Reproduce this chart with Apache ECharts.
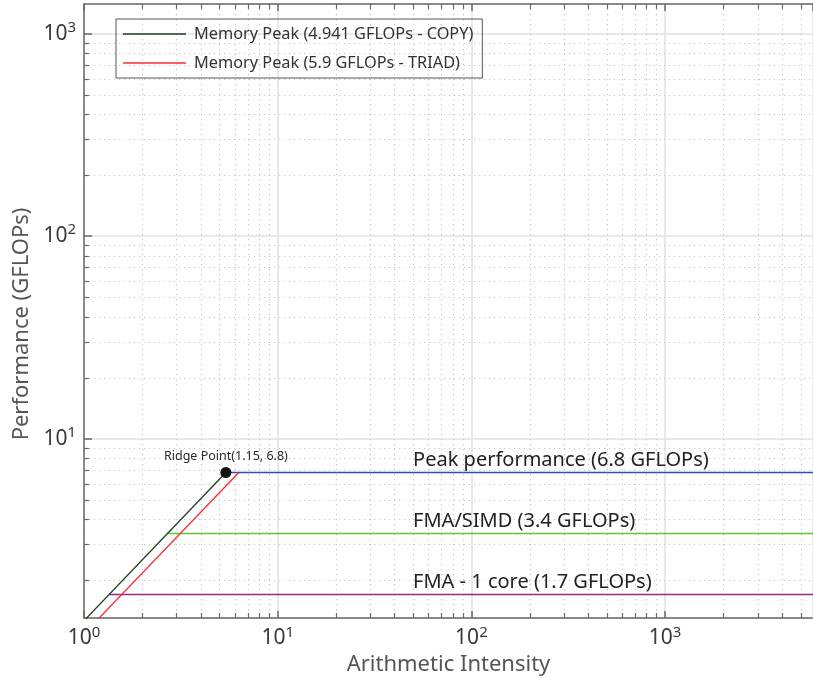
<!DOCTYPE html>
<html>
<head>
<meta charset="utf-8">
<script src="https://cdn.jsdelivr.net/npm/echarts@6/dist/echarts.min.js"></script>
<style>
  html, body { margin: 0; padding: 0; background: #fff; }
  #chart { width: 813px; height: 686px; }
</style>
</head>
<body>
<div id="chart"></div>
<script>
const FONT = '"Noto Sans", "Open Sans", sans-serif';

// Axis extents (log10 scales)
const xRange = [1, 5800];
const yRange = [1.3, 1400];

// Memory-bandwidth roofs: [arithmetic intensity, GFLOPs]
const memoryNames = ['Memory Peak (4.941 GFLOPs - COPY)', 'Memory Peak (5.9 GFLOPs - TRIAD)'];
const copyRoof = [[1, 1.26], [5.4, 6.8]];
const triadRoof = [[1.17, 1.27], [6.3, 6.8]];

// Compute ceilings
const ceilingNames = ['Peak performance (6.8 GFLOPs)', 'FMA/SIMD (3.4 GFLOPs)', 'FMA - 1 core (1.7 GFLOPs)'];
const ceilingValues = [6.8, 3.4, 1.7];
const ceilingStart = [5.4, 2.7, 1.35];
const ceilingColors = ['#2f4fb0', '#5cc43a', '#922a8e'];
const ceilingLabelX = 50;

// Ridge point
const ridgePoint = [5.4, 6.8];
const ridgeLabel = 'Ridge Point(1.15, 6.8)';

// Minor grid positions (2..9 within each decade)
function minorValues(lo, hi) {
  const out = [];
  for (let k = -1; k <= 4; k++) {
    for (let m = 2; m <= 9; m++) {
      const v = m * Math.pow(10, k);
      if (v > lo && v < hi) out.push(v);
    }
  }
  return out;
}
const xMinor = minorValues(xRange[0], xRange[1]);
const yMinor = minorValues(yRange[0], yRange[1]);

const powLabel = v => '{b|10}{s|' + Math.round(Math.log10(v)) + '}';
const richPow = {
  b: { fontSize: 21, fontFamily: FONT, color: '#383838', lineHeight: 27 },
  s: { fontSize: 15, fontFamily: FONT, color: '#383838', verticalAlign: 'top', lineHeight: 17 }
};

const axisLineStyle = { color: '#6a6a6a', width: 1.5 };

const chart = echarts.init(document.getElementById('chart'), null, { renderer: 'canvas' });

const series = [];

// Dotted minor grid and minor ticks
series.push({
  type: 'custom',
  silent: true,
  z: 1,
  data: [[10, 10]],
  renderItem(params, api) {
    const cs = params.coordSys;
    const top = cs.y, bottom = cs.y + cs.height, left = cs.x, right = cs.x + cs.width;
    const kids = [];
    const dot = { stroke: '#c6c6c6', lineWidth: 1.2, lineDash: [1.2, 3.8] };
    const tick = { stroke: '#6a6a6a', lineWidth: 1.2 };
    xMinor.forEach(v => {
      const px = Math.round(api.coord([v, 10])[0]) + 0.5;
      kids.push({ type: 'line', shape: { x1: px, y1: top, x2: px, y2: bottom }, style: dot });
      kids.push({ type: 'line', shape: { x1: px, y1: bottom, x2: px, y2: bottom - 5 }, style: tick });
      kids.push({ type: 'line', shape: { x1: px, y1: top, x2: px, y2: top + 5 }, style: tick });
    });
    yMinor.forEach(v => {
      const py = Math.round(api.coord([10, v])[1]) + 0.5;
      kids.push({ type: 'line', shape: { x1: left, y1: py, x2: right, y2: py }, style: dot });
      kids.push({ type: 'line', shape: { x1: left, y1: py, x2: left + 5, y2: py }, style: tick });
    });
    return { type: 'group', children: kids };
  }
});

// Memory roofs
series.push({
  name: memoryNames[0], type: 'line', data: copyRoof, symbol: 'none', z: 3,
  lineStyle: { color: '#1f3f1f', width: 1.3 }, itemStyle: { color: '#1f3f1f' }
});
series.push({
  name: memoryNames[1], type: 'line', data: triadRoof, symbol: 'none', z: 3,
  lineStyle: { color: '#ff2a2a', width: 1.3 }, itemStyle: { color: '#ff2a2a' }
});

// Compute ceilings with their captions
ceilingValues.forEach((v, i) => {
  series.push({
    name: ceilingNames[i], type: 'line', symbol: 'none', z: 2,
    data: [[ceilingStart[i], v], [xRange[1], v]],
    lineStyle: { color: ceilingColors[i], width: 1.5 },
    markPoint: {
      symbol: 'circle', symbolSize: 0, silent: true,
      data: [{ coord: [ceilingLabelX, v] }],
      label: {
        show: true, position: 'right', distance: 0, offset: [0, -12],
        formatter: ceilingNames[i], fontSize: 20, fontFamily: FONT, color: '#222'
      }
    }
  });
});

// Ridge point marker
series.push({
  type: 'scatter', data: [ridgePoint], symbolSize: 11, z: 5,
  itemStyle: { color: '#111', opacity: 1 },
  label: {
    show: true, position: 'top', distance: 4, formatter: ridgeLabel,
    fontSize: 12.5, fontFamily: FONT, color: '#2a2a2a'
  }
});

chart.setOption({
  animation: false,
  backgroundColor: '#fff',
  grid: { left: 84, right: 0, top: 4, bottom: 68, outerBoundsMode: 'none' },
  legend: {
    data: memoryNames,
    orient: 'vertical', left: 116, top: 19,
    padding: [6, 9, 6, 7], itemGap: 11,
    icon: 'rect', itemWidth: 63, itemHeight: 1.5,
    borderColor: '#555', borderWidth: 1, backgroundColor: 'transparent',
    textStyle: { fontSize: 16.3, fontFamily: FONT, color: '#333', lineHeight: 18, padding: [0, 0, 0, 3] }
  },
  xAxis: [{
    type: 'log', logBase: 10, min: xRange[0], max: xRange[1],
    name: 'Arithmetic Intensity', nameLocation: 'middle', nameGap: 35,
    nameTextStyle: { fontSize: 22, fontFamily: FONT, color: '#555' },
    axisLine: { show: true, lineStyle: axisLineStyle },
    axisTick: { show: true, inside: true, length: 7, lineStyle: axisLineStyle },
    axisLabel: { formatter: powLabel, rich: richPow, margin: 7, showMinLabel: true, showMaxLabel: false },
    splitLine: { show: true, lineStyle: { color: '#e2e2e2', width: 1.5 } }
  }, {
    type: 'log', logBase: 10, min: xRange[0], max: xRange[1], position: 'top',
    axisLine: { show: true, lineStyle: axisLineStyle },
    axisTick: { show: true, inside: true, length: 7, lineStyle: axisLineStyle },
    axisLabel: { show: false }, splitLine: { show: false }
  }],
  yAxis: {
    type: 'log', logBase: 10, min: yRange[0], max: yRange[1],
    name: 'Performance (GFLOPs)', nameLocation: 'middle', nameGap: 50,
    nameTextStyle: { fontSize: 22, fontFamily: FONT, color: '#555', padding: [0, 26, 0, 0] },
    axisLine: { show: true, lineStyle: axisLineStyle },
    axisTick: { show: true, inside: true, length: 8, lineStyle: axisLineStyle },
    axisLabel: { formatter: powLabel, rich: richPow, margin: 8, showMinLabel: false, showMaxLabel: false },
    splitLine: { show: true, lineStyle: { color: '#e2e2e2', width: 1.5 } }
  },
  series
});
</script>
</body>
</html>
